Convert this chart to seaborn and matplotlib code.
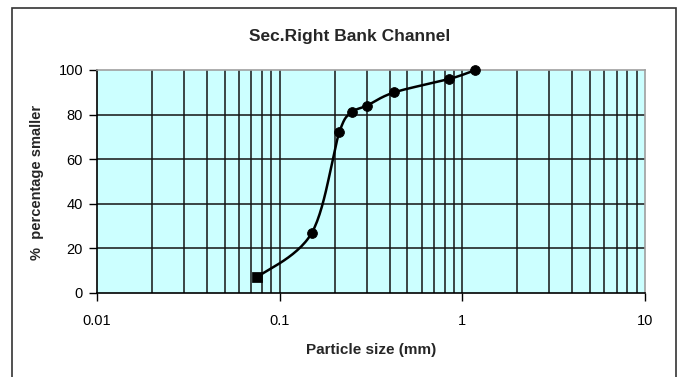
import numpy as np
import pandas as pd
import matplotlib
matplotlib.use("Agg")
import matplotlib.pyplot as plt
from matplotlib.patches import Rectangle
from matplotlib.ticker import FixedLocator, NullFormatter
import seaborn as sns

# Sieve analysis results
particle_size_mm = [0.075, 0.15, 0.212, 0.25, 0.30, 0.425, 0.85, 1.18]
percent_smaller = [7, 27, 72, 81, 84, 90, 96, 100]

x_ticks = [0.01, 0.1, 1, 10]
x_tick_labels = ["0.01", "0.1", "1", "10"]
y_ticks = [0, 20, 40, 60, 80, 100]

title = "Sec.Right Bank Channel"
x_label = "Particle size (mm)"
y_label = "%  percentage smaller"

df = pd.DataFrame({"size": particle_size_mm, "pct": percent_smaller})

sns.set_theme(style="white")
plt.rcParams["font.family"] = ["Liberation Sans", "DejaVu Sans"]

fig = plt.figure(figsize=(6.83, 3.77), dpi=100)
ax = fig.add_axes([97 / 683, 1 - 293 / 377, 548 / 683, 223 / 377])
ax.set_facecolor("#CCFFFF")

ax.set_xscale("log")
ax.set_xlim(0.01, 10)
ax.set_ylim(0, 100)

# grid: minor log lines and horizontal major lines
minor_x = [m * 10.0 ** e for e in (-2, -1, 0) for m in range(2, 10)]
for xv in minor_x + [0.1, 1]:
    ax.axvline(xv, color="#141414", lw=1.1, zorder=1)
for yv in y_ticks[1:-1]:
    ax.axhline(yv, color="#141414", lw=1.1, zorder=1)

# smoothed curve (Bezier through the points in display space)
fig.canvas.draw()
pts = ax.transData.transform(np.column_stack([df["size"], df["pct"]]))
P = np.vstack([pts[0], pts, pts[-1]])
curve = []
tt = np.linspace(0, 1, 30)
for i in range(1, len(P) - 2):
    p0, p1, p2, p3 = P[i - 1], P[i], P[i + 1], P[i + 2]
    c1 = p1 + (p2 - p0) / 6
    c2 = p2 - (p3 - p1) / 6
    for t in tt:
        b = ((1 - t) ** 3) * p1 + 3 * ((1 - t) ** 2) * t * c1 + 3 * (1 - t) * t ** 2 * c2 + t ** 3 * p2
        curve.append(b)
curve = ax.transData.inverted().transform(np.array(curve))
curve_df = pd.DataFrame({"size": curve[:, 0], "pct": curve[:, 1]})
sns.lineplot(data=curve_df, x="size", y="pct", sort=False, estimator=None,
             color="black", lw=1.8, ax=ax, zorder=3)

# markers: first point square, the rest round
sns.scatterplot(data=df.iloc[:1], x="size", y="pct", marker="s", s=45,
                color="black", edgecolor="black", ax=ax, zorder=4)
sns.scatterplot(data=df.iloc[1:], x="size", y="pct", marker="o", s=50,
                color="black", edgecolor="black", ax=ax, zorder=4)
for coll in ax.collections:
    coll.set_clip_on(False)

ax.xaxis.set_minor_locator(FixedLocator([]))
ax.xaxis.set_minor_formatter(NullFormatter())
ax.set_xticks(x_ticks)
ax.set_xticklabels(x_tick_labels)
ax.set_yticks(y_ticks)
ax.set_yticklabels([str(v) for v in y_ticks])
ax.tick_params(axis="both", which="major", direction="out", length=6, width=1,
               color="black", labelsize=10.5, labelcolor="black")
ax.tick_params(axis="x", which="major", bottom=True, pad=9)
ax.tick_params(axis="y", which="major", left=True, pad=4)

for side in ["left", "bottom"]:
    ax.spines[side].set_color("black")
    ax.spines[side].set_linewidth(1.2)
for side in ["top", "right"]:
    ax.spines[side].set_color("#a0a0a0")
    ax.spines[side].set_linewidth(1.2)

ax.set_xlabel("")
ax.set_ylabel("")
fig.text(350 / 683, 1 - 37 / 377, title, ha="center", va="center",
         fontsize=12.5, fontweight="bold")
fig.text(371 / 683, 1 - 350 / 377, x_label, ha="center", va="center",
         fontsize=11, fontweight="bold")
fig.text(37 / 683, 1 - 182 / 377, y_label, ha="center", va="center",
         rotation=90, fontsize=10.5, fontweight="bold")

# chart frame
fig.patches.append(Rectangle((12 / 683, -0.05), (676 - 12) / 683, 1.05 - 8 / 377,
                             transform=fig.transFigure, fill=False,
                             edgecolor="#333333", lw=1.2))

fig.savefig("out.png", dpi=100, facecolor="white")
